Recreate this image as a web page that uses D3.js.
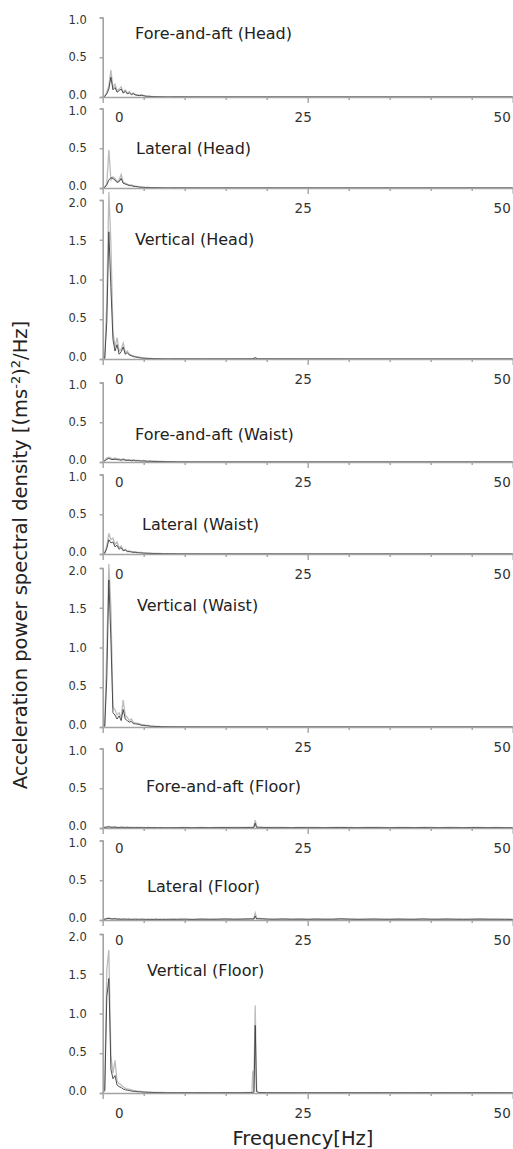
<!DOCTYPE html>
<html><head><meta charset="utf-8">
<script src="https://cdn.jsdelivr.net/npm/d3@7"></script>
<style>body{margin:0;background:#fff}svg{display:block}</style>
</head><body>
<svg id="c" width="513" height="1149"></svg>
<script>
// ---------------- DATA ----------------
const titles = ["Fore-and-aft (Head)","Lateral (Head)","Vertical (Head)",
  "Fore-and-aft (Waist)","Lateral (Waist)","Vertical (Waist)",
  "Fore-and-aft (Floor)","Lateral (Floor)","Vertical (Floor)"];
const yMax = [1,1,2, 1,1,2, 1,1,2];
const yTickLabels = ["0.0","0.5","1.0","1.5","2.0"];
const xTickLabels = ["0","25","50"];
const xTickValues = [0,25,50];
const xMinorTicks = [0,5,10,15,20,25,30,35,40,45,50];

// low band: 0 .. 8 Hz, 0.25 Hz step (33 values)
const lowStep = 0.25;
const faHeadLight = [0,0.01,0.06,0.14,0.34,0.12,0.16,0.08,0.10,0.13,0.06,0.09,0.05,0.07,0.04,0.05,0.03,0.03,0.02,0.03,0.02,0.012,0.01,0.01,0.006,0.005,0.004,0.004,0.003,0.003,0.002,0.002,0.002];
const faHeadDark  = [0,0.008,0.04,0.10,0.25,0.09,0.12,0.06,0.08,0.10,0.05,0.07,0.04,0.05,0.03,0.04,0.025,0.02,0.018,0.02,0.015,0.01,0.008,0.008,0.005,0.004,0.003,0.003,0.002,0.002,0.002,0.001,0.001];
const latHeadLight = [0,0.01,0.05,0.48,0.10,0.14,0.12,0.08,0.10,0.17,0.07,0.06,0.05,0.04,0.04,0.03,0.02,0.02,0.015,0.01,0.01,0.008,0.008,0.006,0.005,0.005,0.004,0.004,0.003,0.003,0.002,0.002,0.002];
const latHeadDark  = [0,0.01,0.04,0.10,0.13,0.12,0.10,0.07,0.08,0.12,0.06,0.05,0.04,0.03,0.03,0.02,0.02,0.015,0.01,0.01,0.008,0.006,0.006,0.005,0.004,0.004,0.003,0.003,0.002,0.002,0.002,0.001,0.001];
const vertHeadLight = [0,0.02,0.72,2.1,1.45,0.35,0.15,0.27,0.10,0.12,0.20,0.08,0.10,0.06,0.05,0.04,0.03,0.03,0.02,0.02,0.015,0.01,0.01,0.008,0.006,0.005,0.005,0.004,0.004,0.003,0.003,0.002,0.002];
const vertHeadDark  = [0,0.01,0.47,1.6,0.9,0.25,0.10,0.18,0.06,0.09,0.15,0.06,0.08,0.05,0.04,0.03,0.025,0.02,0.015,0.01,0.01,0.008,0.006,0.005,0.004,0.004,0.003,0.003,0.002,0.002,0.002,0.001,0.001];
const faWaistLight = [0,0.02,0.05,0.06,0.05,0.04,0.05,0.04,0.04,0.03,0.04,0.03,0.03,0.03,0.02,0.03,0.02,0.02,0.02,0.015,0.02,0.015,0.01,0.015,0.01,0.01,0.01,0.008,0.008,0.006,0.006,0.005,0.005];
const faWaistDark  = [0,0.015,0.035,0.045,0.035,0.03,0.035,0.03,0.028,0.022,0.03,0.022,0.02,0.022,0.015,0.02,0.015,0.015,0.014,0.01,0.014,0.01,0.008,0.01,0.008,0.007,0.007,0.006,0.006,0.005,0.004,0.004,0.004];
const latWaistLight = [0,0.02,0.10,0.26,0.18,0.20,0.12,0.15,0.08,0.10,0.05,0.06,0.04,0.04,0.03,0.03,0.03,0.02,0.02,0.02,0.015,0.015,0.01,0.01,0.01,0.008,0.008,0.006,0.006,0.005,0.005,0.004,0.004];
const latWaistDark  = [0,0.01,0.07,0.18,0.14,0.15,0.09,0.11,0.06,0.08,0.04,0.05,0.03,0.03,0.025,0.02,0.02,0.015,0.015,0.012,0.01,0.01,0.008,0.008,0.006,0.006,0.005,0.005,0.004,0.004,0.003,0.003,0.003];
const vertWaistLight = [0,0.02,0.98,2.05,1.5,0.25,0.22,0.15,0.18,0.12,0.34,0.15,0.12,0.08,0.10,0.06,0.05,0.05,0.04,0.03,0.03,0.02,0.02,0.015,0.01,0.01,0.008,0.008,0.006,0.005,0.005,0.004,0.004];
const vertWaistDark  = [0,0.01,0.62,1.85,1.1,0.18,0.15,0.10,0.14,0.08,0.22,0.10,0.08,0.06,0.07,0.04,0.04,0.035,0.03,0.02,0.02,0.015,0.015,0.01,0.008,0.008,0.006,0.006,0.005,0.004,0.004,0.003,0.003];
const faFloorLight = [0,0.01,0.015,0.02,0.012,0.01,0.015,0.01,0.008,0.012,0.01,0.008,0.01,0.007,0.009,0.008,0.006,0.008,0.007,0.006,0.007,0.005,0.006,0.007,0.005,0.006,0.005,0.004,0.006,0.005,0.004,0.005,0.004];
const faFloorDark  = [0,0.008,0.01,0.014,0.009,0.008,0.011,0.007,0.006,0.009,0.007,0.006,0.008,0.005,0.007,0.006,0.005,0.006,0.005,0.004,0.005,0.004,0.005,0.005,0.004,0.004,0.004,0.003,0.004,0.004,0.003,0.004,0.003];
const latFloorLight = [0,0.012,0.02,0.025,0.018,0.015,0.02,0.012,0.015,0.01,0.014,0.012,0.01,0.013,0.009,0.012,0.01,0.011,0.009,0.012,0.01,0.008,0.011,0.009,0.01,0.008,0.012,0.009,0.01,0.008,0.011,0.009,0.01];
const latFloorDark  = [0,0.01,0.015,0.02,0.014,0.012,0.016,0.01,0.012,0.008,0.011,0.01,0.008,0.01,0.007,0.01,0.008,0.009,0.007,0.01,0.008,0.006,0.009,0.007,0.008,0.006,0.01,0.007,0.008,0.006,0.009,0.007,0.008];
const vertFloorLight = [0,0.05,1.55,1.8,0.47,0.25,0.41,0.15,0.12,0.10,0.08,0.06,0.05,0.05,0.04,0.03,0.03,0.02,0.02,0.02,0.015,0.015,0.01,0.01,0.01,0.008,0.008,0.007,0.007,0.006,0.006,0.005,0.005];
const vertFloorDark  = [0,0.03,1.21,1.44,0.30,0.18,0.22,0.10,0.08,0.07,0.05,0.04,0.035,0.03,0.025,0.02,0.02,0.015,0.015,0.012,0.01,0.01,0.008,0.008,0.007,0.006,0.006,0.005,0.005,0.005,0.004,0.004,0.004];

// high band: 9 .. 50 Hz, 1 Hz step (42 values) for floor spectra
const highStart = 9, highStep = 1;
const faFloorLightHigh = [0.005,0.006,0.004,0.007,0.005,0.006,0.008,0.006,0.007,0.009,0.012,0.008,0.006,0.007,0.005,0.008,0.006,0.007,0.005,0.006,0.009,0.007,0.005,0.006,0.008,0.006,0.005,0.007,0.006,0.005,0.008,0.006,0.005,0.007,0.006,0.005,0.006,0.007,0.005,0.006,0.005,0.004];
const faFloorDarkHigh  = [0.004,0.005,0.003,0.005,0.004,0.005,0.006,0.004,0.005,0.007,0.009,0.006,0.004,0.005,0.004,0.006,0.004,0.005,0.004,0.005,0.007,0.005,0.004,0.005,0.006,0.004,0.004,0.005,0.005,0.004,0.006,0.004,0.004,0.005,0.004,0.004,0.005,0.005,0.004,0.005,0.004,0.003];
const latFloorLightHigh = [0.01,0.012,0.009,0.013,0.01,0.012,0.015,0.011,0.013,0.016,0.02,0.014,0.012,0.015,0.011,0.013,0.01,0.014,0.012,0.011,0.016,0.013,0.01,0.012,0.014,0.011,0.01,0.013,0.012,0.01,0.015,0.012,0.011,0.014,0.012,0.01,0.012,0.014,0.011,0.012,0.01,0.009];
const latFloorDarkHigh  = [0.008,0.01,0.007,0.01,0.008,0.009,0.012,0.009,0.01,0.013,0.016,0.011,0.009,0.012,0.009,0.01,0.008,0.011,0.009,0.009,0.013,0.01,0.008,0.009,0.011,0.009,0.008,0.01,0.009,0.008,0.012,0.009,0.009,0.011,0.009,0.008,0.009,0.011,0.009,0.009,0.008,0.007];
const vertFloorLightHigh = [0.004,0.005,0.004,0.005,0.004,0.004,0.005,0.004,0.005,0.006,0.008,0.005,0.004,0.005,0.004,0.004,0.004,0.005,0.004,0.004,0.005,0.004,0.004,0.004,0.005,0.004,0.004,0.004,0.004,0.004,0.005,0.004,0.004,0.004,0.004,0.004,0.004,0.004,0.004,0.004,0.004,0.003];
const vertFloorDarkHigh  = [0.003,0.004,0.003,0.004,0.003,0.003,0.004,0.003,0.004,0.005,0.006,0.004,0.003,0.004,0.003,0.003,0.003,0.004,0.003,0.003,0.004,0.003,0.003,0.003,0.004,0.003,0.003,0.003,0.003,0.003,0.004,0.003,0.003,0.003,0.003,0.003,0.003,0.003,0.003,0.003,0.003,0.002];

// sparse extra points [Hz, value] (tails of body spectra, 18.6 Hz floor peak)
const headWaistTail = [[9,0.002],[12,0.001],[20,0.001],[35,0.001],[50,0.001]];
const vertHeadTail = [[9,0.002],[12,0.001],[18.3,0.002],[18.6,0.015],[18.9,0.002],[30,0.001],[50,0.001]];
const faFloorLightPeak = [[18.4,0.012],[18.6,0.10],[18.8,0.014]];
const faFloorDarkPeak  = [[18.45,0.008],[18.6,0.06],[18.75,0.009]];
const latFloorLightPeak = [[18.4,0.015],[18.6,0.09],[18.8,0.018]];
const latFloorDarkPeak  = [[18.45,0.012],[18.6,0.05],[18.75,0.014]];
const vertFloorLightPeak = [[18.2,0.01],[18.3,0.28],[18.42,0.02],[18.6,1.1],[18.78,0.03]];
const vertFloorDarkPeak  = [[18.45,0.01],[18.6,0.85],[18.75,0.02]];

const seriesLight = [
  {low: faHeadLight, high: null, extra: headWaistTail},
  {low: latHeadLight, high: null, extra: headWaistTail},
  {low: vertHeadLight, high: null, extra: vertHeadTail},
  {low: faWaistLight, high: null, extra: headWaistTail},
  {low: latWaistLight, high: null, extra: headWaistTail},
  {low: vertWaistLight, high: null, extra: headWaistTail},
  {low: faFloorLight, high: faFloorLightHigh, extra: faFloorLightPeak},
  {low: latFloorLight, high: latFloorLightHigh, extra: latFloorLightPeak},
  {low: vertFloorLight, high: vertFloorLightHigh, extra: vertFloorLightPeak}
];
const seriesDark = [
  {low: faHeadDark, high: null, extra: headWaistTail},
  {low: latHeadDark, high: null, extra: headWaistTail},
  {low: vertHeadDark, high: null, extra: vertHeadTail},
  {low: faWaistDark, high: null, extra: headWaistTail},
  {low: latWaistDark, high: null, extra: headWaistTail},
  {low: vertWaistDark, high: null, extra: headWaistTail},
  {low: faFloorDark, high: faFloorDarkHigh, extra: faFloorDarkPeak},
  {low: latFloorDark, high: latFloorDarkHigh, extra: latFloorDarkPeak},
  {low: vertFloorDark, high: vertFloorDarkHigh, extra: vertFloorDarkPeak}
];

// ---------------- LAYOUT ----------------
const L = {
  x0: 102.7, x1: 512.7, unit: 79.5,
  bottoms: [97,188,359, 462,554,727, 828,920,1093],
  titleX: [135,136,135, 135,142,137, 146,147,147],
  titleY: [39,154,245, 440,530,611, 792,892,976],
  xLabelDx: [16,-5,-11],
  yLabelShift: 2.5
};
const font = "DejaVu Sans, sans-serif";
const axisColor = "#a3a3a3";

function buildPoints(s){
  const pts = s.low.map((v,i)=>[i*lowStep, v]);
  if (s.high) s.high.forEach((v,i)=>pts.push([highStart + i*highStep, v]));
  if (s.extra) s.extra.forEach(p=>pts.push(p));
  pts.sort((a,b)=>a[0]-b[0]);
  return pts;
}

const svg = d3.select("#c");
const x = d3.scaleLinear().domain([0,50]).range([L.x0, L.x1]);

titles.forEach((t, k) => {
  const bottom = L.bottoms[k];
  const y = d3.scaleLinear().domain([0, yMax[k]]).range([bottom, bottom - yMax[k]*L.unit]);
  const g = svg.append("g");

  // lines
  const line = d3.line().x(d=>x(d[0])).y(d=>y(d[1]));
  g.append("path").datum(buildPoints(seriesLight[k]))
    .attr("d", line).attr("fill","none").attr("stroke","#bcbcbc").attr("stroke-width",1.3);
  g.append("path").datum(buildPoints(seriesDark[k]))
    .attr("d", line).attr("fill","none").attr("stroke","#3c3c3c").attr("stroke-width",0.9);

  // y axis
  const yTicks = d3.range(0, yMax[k] + 0.001, 0.5);
  const ya = g.append("g").attr("transform", `translate(${L.x0},0)`)
    .call(d3.axisLeft(y).tickValues(yTicks).tickSize(3).tickSizeOuter(3).tickPadding(13)
      .tickFormat(d => yTickLabels[Math.round(d*2)]));
  // nudge labels toward the panel centre (as in the original figure)
  ya.selectAll(".tick text").attr("y", d => L.yLabelShift * (2*d/yMax[k] - 1));
  // x axis
  const xa = g.append("g").attr("transform", `translate(0,${bottom})`)
    .call(d3.axisBottom(x).tickValues(xMinorTicks).tickSize(3).tickSizeOuter(0).tickPadding(12)
      .tickFormat(d => { const i = xTickValues.indexOf(d); return i >= 0 ? xTickLabels[i] : ""; }));
  xa.selectAll(".tick").filter(d => xTickValues.includes(d)).select("line").attr("y2", 6);
  xa.selectAll(".tick text").attr("dx", d => { const i = xTickValues.indexOf(d); return i >= 0 ? L.xLabelDx[i] : 0; });

  [ya, xa].forEach(a => {
    a.select(".domain").attr("stroke", axisColor).attr("stroke-width", 1.6);
    a.selectAll(".tick line").attr("stroke", axisColor).attr("stroke-width", 1.4);
  });
  ya.selectAll("text").attr("font-family", font).attr("font-size", 11.5).attr("fill", "#333");
  xa.selectAll("text").attr("font-family", font).attr("font-size", 13.5).attr("fill", "#333");

  // title
  g.append("text").attr("x", L.titleX[k]).attr("y", L.titleY[k]).text(t)
    .attr("font-family", font).attr("font-size", 16).attr("fill", "#222");
});

// axis titles
svg.append("text").attr("x", 303).attr("y", 1145).attr("text-anchor","middle")
  .attr("font-family", font).attr("font-size", 19.5).attr("fill","#222").text("Frequency[Hz]");

const yl = svg.append("text").attr("transform","translate(27,555) rotate(-90)")
  .attr("text-anchor","middle").attr("font-family", font).attr("font-size", 19.5).attr("fill","#222");
yl.append("tspan").text("Acceleration power spectral density [(ms");
yl.append("tspan").attr("font-size", 13).attr("dy", -7).text("-2");
yl.append("tspan").attr("dy", 7).text(")");
yl.append("tspan").attr("font-size", 13).attr("dy", -7).text("2");
yl.append("tspan").attr("dy", 7).text("/Hz]");
</script>
</body></html>
